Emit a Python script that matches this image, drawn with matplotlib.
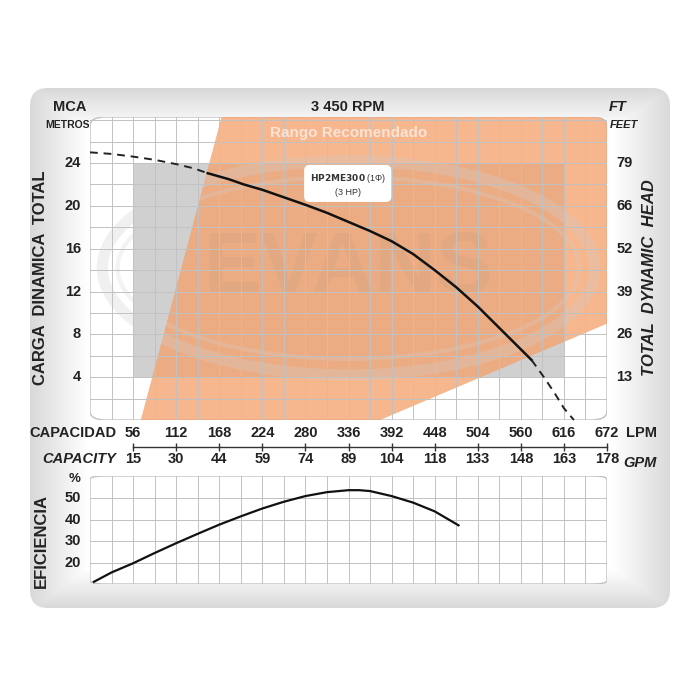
import numpy as np
import matplotlib
matplotlib.use("Agg")
import matplotlib.pyplot as plt
from matplotlib.patches import FancyBboxPatch, Polygon, Rectangle, Ellipse

plt.rcParams['font.family'] = ['Liberation Sans', 'DejaVu Sans']

lpm_ticks = [56, 112, 168, 224, 280, 336, 392, 448, 504, 560, 616, 672]
gpm_labels = ["15", "30", "44", "59", "74", "89", "104", "118", "133", "148", "163", "178"]
head_ticks = [4, 8, 12, 16, 20, 24]
ft_labels = ["13", "26", "39", "52", "66", "79"]
# Head curve (LPM, m)
q_dash1 = [0, 28, 56, 84, 112, 135, 153]
h_dash1 = [25.0, 24.85, 24.6, 24.3, 23.9, 23.5, 23.05]
q_solid = [153, 180, 200, 224, 250, 280, 308, 336, 364, 392, 420, 448, 476, 504, 532, 560, 574]
h_solid = [23.05, 22.5, 22.0, 21.5, 20.85, 20.1, 19.35, 18.5, 17.65, 16.7, 15.5, 14.0, 12.4, 10.6, 8.6, 6.6, 5.6]
q_dash2 = [574, 590, 604, 616, 629]
h_dash2 = [5.6, 4.0, 2.5, 1.1, 0.0]
# Efficiency curve
q_eff = [5, 28, 56, 84, 112, 140, 168, 196, 224, 252, 280, 308, 336, 350, 364, 392, 420, 448, 479]
eff = [11.5, 15.8, 20, 24.7, 29.2, 33.5, 37.7, 41.5, 45.1, 48.2, 50.8, 52.6, 53.5, 53.5, 53.1, 50.8, 47.8, 43.8, 37.4]
eff_ticks = [20, 30, 40, 50]

fig = plt.figure(figsize=(7, 7), dpi=100)
fig.patch.set_facecolor("white")

bg = fig.add_axes([0, 0, 1, 1]); bg.set_xlim(0, 700); bg.set_ylim(700, 0); bg.axis("off")
yy, xx = np.mgrid[0:520, 0:640]
d = np.minimum.reduce([xx * 0.7, (640 - xx) * 0.7, yy * 1.0, 520 - yy]).astype(float)
g = 0.85 + 0.15 * np.clip(d / 40.0, 0, 1)
img = bg.imshow(np.dstack([g, g, g]), extent=[30, 670, 608, 88], zorder=0)
panel = FancyBboxPatch((30, 88), 640, 520, boxstyle="round,pad=0,rounding_size=18",
                       transform=bg.transData, facecolor="none", edgecolor="none")
bg.add_patch(panel); img.set_clip_path(panel)

GRID = "#c2c2c2"
TXT = "#222222"

def style_axes(ax):
    ax.patch.set_visible(False)
    for s in ax.spines.values():
        s.set_visible(False)
    fr = FancyBboxPatch((0, 0), 1, 1, boxstyle="round,pad=0,rounding_size=0.03",
                        transform=ax.transAxes, facecolor="white", edgecolor="#c0c0c0",
                        lw=1, zorder=0)
    ax.add_patch(fr)
    ax.set_xticks([]); ax.set_yticks([])
    return fr

L, R = 90 / 700, 517 / 700
ax = fig.add_axes([L, 1 - 420 / 700, R, 303 / 700])
fr = style_axes(ax)
ax.set_xlim(0, 672); ax.set_ylim(0, 28.3)
ax.add_patch(Rectangle((56, 4), 560, 20, facecolor="#d0d0d0", edgecolor="none", zorder=1))
orange = Polygon([(66, 0), (171, 28.3), (672, 28.3), (672, 9.0), (377, 0)],
                 closed=True, facecolor="#f4a26e", alpha=0.78, edgecolor="none", zorder=2)
ax.add_patch(orange); orange.set_clip_path(fr)
ax.add_patch(Ellipse((336, 14.2), 640, 20, fill=False, edgecolor="#d0d0d0", lw=8, alpha=0.3, zorder=2.5))
ax.add_patch(Ellipse((336, 14.2), 600, 17, fill=False, edgecolor="#d0d0d0", lw=3, alpha=0.25, zorder=2.5))
ax.text(336, 14.0, "EVANS", ha="center", va="center", fontsize=62, fontweight="bold",
        color="#c8a080", alpha=0.25, zorder=2.6)
for x in np.arange(28, 672, 28):
    ax.axvline(x, color=GRID, lw=0.7, zorder=3)
for y in np.arange(2, 28.3, 2):
    ax.axhline(y, color=GRID, lw=0.7, zorder=3)
ax.plot(q_dash1, h_dash1, color=TXT, lw=1.4, ls=(0, (4, 3)), zorder=5)
ax.plot(q_solid, h_solid, color="#111", lw=1.8, zorder=5)
ax.plot(q_dash2, h_dash2, color=TXT, lw=1.4, ls=(0, (4, 3)), zorder=5, clip_on=False)
ax.text(336, 26.8, "Rango Recomendado", ha="center", va="center", color="#fde3d3",
        fontsize=11, fontweight="bold", zorder=6)
ax.text(335, 22.0, r"$\bf{HP2ME300}$ (1Φ)" + "\n(3 HP)", ha="center", va="center", fontsize=6.5,
        color="#333", zorder=6, linespacing=1.3,
        bbox=dict(boxstyle="round,pad=0.6", fc="white", ec="none"))
for h, f in zip(head_ticks, ft_labels):
    ax.text(-12, h, str(h), ha="right", va="center", fontsize=10.5, fontweight="bold", color=TXT)
    ax.text(684, h, f, ha="left", va="center", fontsize=10.5, fontweight="bold", color=TXT)
ax.text(-0.095, 0.47, "CARGA  DINAMICA  TOTAL", rotation=90, ha="center", va="center",
        fontsize=12, fontweight="bold", color=TXT, transform=ax.transAxes)
ax.text(1.083, 0.47, "TOTAL  DYNAMIC  HEAD", rotation=90, ha="center", va="center",
        fontsize=12, fontweight="bold", fontstyle="italic", color=TXT, transform=ax.transAxes)
fig.text(70 / 700, 1 - 111 / 700, "MCA", ha="center", fontsize=10.5, fontweight="bold", color=TXT)
fig.text(68 / 700, 1 - 128 / 700, "METROS", ha="center", fontsize=7.5, fontweight="bold", color=TXT)
fig.text(348 / 700, 1 - 111 / 700, "3 450 RPM", ha="center", fontsize=10.5, fontweight="bold", color=TXT)
fig.text(618 / 700, 1 - 111 / 700, "FT", ha="center", fontsize=10.5, fontweight="bold", fontstyle="italic", color=TXT)
fig.text(624 / 700, 1 - 128 / 700, "FEET", ha="center", fontsize=8, fontweight="bold", fontstyle="italic", color=TXT)

cx = fig.add_axes([L, 1 - 447 / 700, R, 0.001])
cx.set_xlim(0, 672); cx.set_ylim(-1, 1); cx.axis("off")
cx.plot([56, 672], [0, 0], color="#333", lw=1, clip_on=False)
for x, gl in zip(lpm_ticks, gpm_labels):
    cx.plot([x], [0], marker="|", ms=6, mew=1, color="#333", clip_on=False)
    cx.annotate(str(x), (x, 0), xytext=(0, 5), textcoords="offset points", ha="center", va="bottom",
                fontsize=10.5, fontweight="bold", color=TXT)
    cx.annotate(gl, (x, 0), xytext=(0, -4), textcoords="offset points", ha="center", va="top",
                fontsize=10.5, fontweight="bold", color=TXT)
cx.annotate("CAPACIDAD", (56, 0), xytext=(-12, 5), textcoords="offset points", ha="right", va="bottom",
            fontsize=10.5, fontweight="bold", color=TXT)
cx.annotate("CAPACITY", (56, 0), xytext=(-12, -4), textcoords="offset points", ha="right", va="top",
            fontsize=10.5, fontweight="bold", fontstyle="italic", color=TXT)
cx.annotate("LPM", (672, 0), xytext=(14, 5), textcoords="offset points", ha="left", va="bottom",
            fontsize=10.5, fontweight="bold", color=TXT)
cx.annotate("GPM", (672, 0), xytext=(12, -7), textcoords="offset points", ha="left", va="top",
            fontsize=10.5, fontweight="bold", fontstyle="italic", color=TXT)

ex = fig.add_axes([L, 1 - 584 / 700, R, 108 / 700])
style_axes(ex)
ex.set_xlim(0, 672); ex.set_ylim(10.5, 60)
for x in np.arange(28, 672, 28):
    ex.axvline(x, color=GRID, lw=0.7, zorder=3)
for y in eff_ticks:
    ex.axhline(y, color=GRID, lw=0.7, zorder=3)
ex.plot(q_eff, eff, color="#111", lw=1.6, zorder=5)
for e in eff_ticks:
    ex.text(-12, e, str(e), ha="right", va="center", fontsize=10.5, fontweight="bold", color=TXT)
ex.text(-12, 58.5, "%", ha="right", va="center", fontsize=9.5, fontweight="bold", color=TXT)
ex.text(-0.095, 0.4, "EFICIENCIA", rotation=90, ha="center", va="center", fontsize=12,
        fontweight="bold", color=TXT, transform=ex.transAxes)

fig.savefig("out.png", dpi=100)
